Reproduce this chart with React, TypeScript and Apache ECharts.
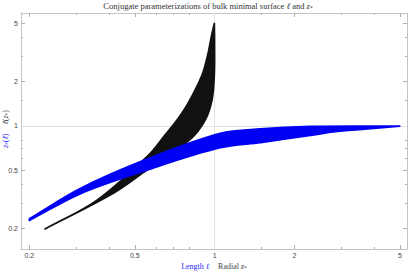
import React, { useEffect, useRef } from "react";
import * as echarts from "echarts";

// Tick labels (log axes)
const xTicks = [0.2, 0.5, 1, 2, 5];
const yTicks = [0.2, 0.5, 1, 2, 5];
const minorTicks = [0.3, 0.4, 0.6, 0.7, 0.8, 1.5, 3, 4];

// Axis ranges
const xMin = 0.186;
const xMax = 5.32;
const yMin = 0.1455;
const yMax = 5.87;

// Blue band: z*(ℓ)  (x = ℓ, y = z*) — upper and lower edges
const blueTopL = [0.2, 0.311, 0.555, 1.05, 1.49, 2.3, 3.77, 5.0];
const blueTopZ = [0.234, 0.376, 0.595, 0.891, 0.955, 0.993, 1.0, 0.998];
const blueBotL = [0.2, 0.311, 0.555, 1.05, 1.49, 2.3, 2.81, 3.77, 5.0];
const blueBotZ = [0.227, 0.345, 0.5, 0.71, 0.77, 0.862, 0.91, 0.953, 0.998];

// Black band: ℓ(z*)  (x = z*, y = ℓ) — upper-left and lower-right edges
const blackTopZ = [0.229, 0.36, 0.563, 0.642, 0.721, 0.798, 0.896, 0.941, 0.974, 0.998];
const blackTopL = [0.199, 0.313, 0.634, 0.845, 1.097, 1.454, 2.22, 3.04, 4.15, 5.0];
const blackBotZ = [0.229, 0.415, 0.555, 0.81, 0.922, 0.978, 0.998, 1.0, 0.998];
const blackBotL = [0.199, 0.348, 0.501, 0.811, 1.097, 1.5, 2.22, 3.84, 5.0];

const frameColor = "#c4c4c4";
const tickColor = "#b0b0b0";
const labelColor = "#444";
const gridColor = "#e2e2e2";
const serif = "Liberation Serif";
const sans = "Liberation Sans";

const lg = (v: number) => Math.log10(v);
const fmt = (v: number) => String(Math.round(Math.pow(10, v) * 10) / 10);

function xAxisDef(position: "bottom" | "top", major: boolean, labels: boolean) {
  const vals = (major ? xTicks : minorTicks).map(lg);
  return {
    type: "value",
    position,
    min: lg(xMin),
    max: lg(xMax),
    axisLine: { show: major, onZero: false, lineStyle: { color: frameColor, width: 1 } },
    axisTick: { show: true, inside: true, length: major ? 4 : 2, customValues: vals, lineStyle: { color: tickColor } },
    axisLabel: {
      show: labels,
      customValues: vals,
      formatter: fmt,
      fontSize: 7,
      fontFamily: sans,
      color: labelColor,
      margin: 3,
    },
    splitLine: { show: false },
  };
}

function yAxisDef(position: "left" | "right", major: boolean, labels: boolean) {
  const vals = (major ? yTicks : minorTicks).map(lg);
  return {
    type: "value",
    position,
    min: lg(yMin),
    max: lg(yMax),
    axisLine: { show: major, onZero: false, lineStyle: { color: frameColor, width: 1 } },
    axisTick: { show: true, inside: true, length: major ? 4 : 2, customValues: vals, lineStyle: { color: tickColor } },
    axisLabel: {
      show: labels,
      customValues: vals,
      formatter: fmt,
      fontSize: 7,
      fontFamily: sans,
      color: labelColor,
      margin: 3,
    },
    splitLine: { show: false },
  };
}

// Smooth curve through pixel points (chord-scaled tangents), as SVG path commands
function smoothSegs(P: number[][], start: "M" | "L"): string {
  const n = P.length;
  const tan: number[][] = [];
  for (let i = 0; i < n; i++) {
    const a = P[Math.max(0, i - 1)];
    const b = P[Math.min(n - 1, i + 1)];
    const dx = b[0] - a[0];
    const dy = b[1] - a[1];
    const len = Math.hypot(dx, dy) || 1;
    tan.push([dx / len, dy / len]);
  }
  let d = `${start}${P[0][0].toFixed(2)},${P[0][1].toFixed(2)}`;
  for (let i = 0; i < n - 1; i++) {
    const p = P[i];
    const q = P[i + 1];
    const L = Math.hypot(q[0] - p[0], q[1] - p[1]) / 3;
    const c1 = [p[0] + tan[i][0] * L, p[1] + tan[i][1] * L];
    const c2 = [q[0] - tan[i + 1][0] * L, q[1] - tan[i + 1][1] * L];
    d += `C${c1[0].toFixed(2)},${c1[1].toFixed(2)} ${c2[0].toFixed(2)},${c2[1].toFixed(2)} ${q[0].toFixed(2)},${q[1].toFixed(2)}`;
  }
  return d;
}

function bandRenderer(xa: number[], ya: number[], xb: number[], yb: number[], color: string) {
  return (_params: any, api: any) => {
    const up: number[][] = xa.map((v, i) => api.coord([v, ya[i]]));
    const lo: number[][] = xb.map((v, i) => api.coord([v, yb[i]])).reverse();
    const d = smoothSegs(up, "M") + smoothSegs(lo, "L") + "Z";
    return {
      type: "path",
      shape: { pathData: d },
      style: { fill: color, stroke: color, lineWidth: 1.6, lineJoin: "round" },
    };
  };
}

export default function App() {
  const ref = useRef<HTMLDivElement>(null);
  useEffect(() => {
    if (!ref.current) return;
    const chart = echarts.init(ref.current, undefined, { renderer: "svg" });
    chart.setOption({
      animation: false,
      backgroundColor: "#ffffff",
      grid: { left: 21, right: 2, top: 13, bottom: 23 },
      xAxis: [
        { type: "log", logBase: 10, min: xMin, max: xMax, show: false, axisLine: { onZero: false } },
        xAxisDef("bottom", true, true),
        xAxisDef("bottom", false, false),
        xAxisDef("top", true, false),
        xAxisDef("top", false, false),
      ],
      yAxis: [
        { type: "log", logBase: 10, min: yMin, max: yMax, show: false, axisLine: { onZero: false } },
        yAxisDef("left", true, true),
        yAxisDef("left", false, false),
        yAxisDef("right", true, false),
        yAxisDef("right", false, false),
      ],
      graphic: [
        {
          type: "text",
          x: 208,
          y: 6,
          style: {
            text: "{t|Conjugate parameterizations of bulk minimal surface }{i|ℓ}{t| and }{i|z}{s|*}",
            align: "center",
            verticalAlign: "middle",
            rich: {
              t: { fontFamily: serif, fontSize: 8.5, fill: "#333" },
              i: { fontFamily: serif, fontSize: 8.5, fontStyle: "italic", fill: "#333" },
              s: { fontFamily: serif, fontSize: 5.5, fill: "#333", padding: [3, 0, 0, 0] },
            },
          },
        },
        {
          type: "text",
          x: 214,
          y: 266,
          style: {
            text: "{b|Length }{bi|ℓ}{g|      }{k|Radial }{ki|z}{ks|*}",
            align: "center",
            verticalAlign: "middle",
            rich: {
              b: { fontFamily: serif, fontSize: 8, fill: "#2a2aff" },
              bi: { fontFamily: serif, fontSize: 8, fontStyle: "italic", fill: "#2a2aff" },
              g: { fontFamily: serif, fontSize: 6 },
              k: { fontFamily: serif, fontSize: 8, fill: "#444" },
              ki: { fontFamily: serif, fontSize: 8, fontStyle: "italic", fill: "#444" },
              ks: { fontFamily: serif, fontSize: 5.5, fill: "#444", padding: [3, 0, 0, 0] },
            },
          },
        },
        {
          type: "text",
          x: 5,
          y: 129,
          rotation: Math.PI / 2,
          style: {
            text: "{bi|z}{bs|*}{b|(}{bi|ℓ}{b|)}{g|      }{ki|ℓ}{k|(}{ki|z}{ks|*}{k|)}",
            align: "center",
            verticalAlign: "middle",
            rich: {
              b: { fontFamily: serif, fontSize: 8, fill: "#2a2aff" },
              bi: { fontFamily: serif, fontSize: 8, fontStyle: "italic", fill: "#2a2aff" },
              bs: { fontFamily: serif, fontSize: 5.5, fill: "#2a2aff", padding: [3, 0, 0, 0] },
              g: { fontFamily: serif, fontSize: 6 },
              k: { fontFamily: serif, fontSize: 8, fill: "#444" },
              ki: { fontFamily: serif, fontSize: 8, fontStyle: "italic", fill: "#444" },
              ks: { fontFamily: serif, fontSize: 5.5, fill: "#444", padding: [3, 0, 0, 0] },
            },
          },
        },
      ],
      series: [
        {
          type: "line",
          xAxisIndex: 0,
          yAxisIndex: 0,
          data: [],
          z: 1,
          silent: true,
          markLine: {
            silent: true,
            z: 1,
            symbol: "none",
            label: { show: false },
            lineStyle: { color: gridColor, width: 1, type: "solid" },
            data: [{ xAxis: 1 }, { yAxis: 1 }],
          },
        },
        {
          type: "custom",
          name: "ℓ(z*)",
          xAxisIndex: 0,
          yAxisIndex: 0,
          z: 3,
          data: [[blackTopZ[0], blackTopL[0]]],
          renderItem: bandRenderer(blackTopZ, blackTopL, blackBotZ, blackBotL, "#111111"),
        },
        {
          type: "custom",
          name: "z*(ℓ)",
          xAxisIndex: 0,
          yAxisIndex: 0,
          z: 4,
          data: [[blueTopL[0], blueTopZ[0]]],
          renderItem: bandRenderer(blueTopL, blueTopZ, blueBotL, blueBotZ, "#0000f5"),
        },
      ],
    });
    return () => chart.dispose();
  }, []);
  return (
    <div
      ref={ref}
      style={{ position: "absolute", left: 0, top: 0, width: 409, height: 272 }}
    />
  );
}
